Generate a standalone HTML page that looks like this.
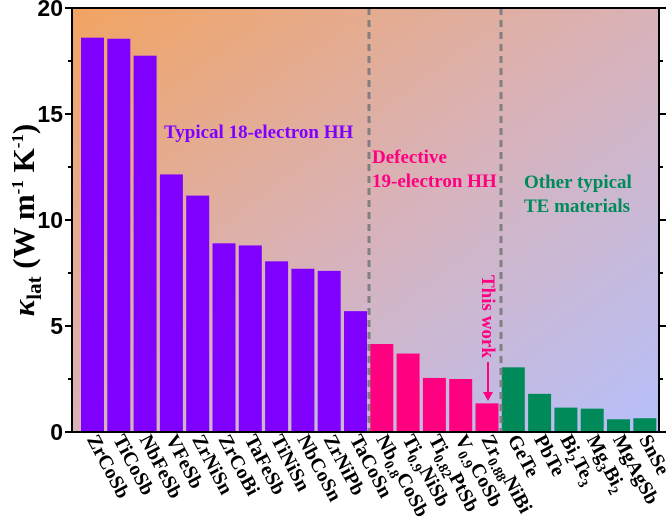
<!DOCTYPE html>
<html><head><meta charset="utf-8"><style>
html,body{margin:0;padding:0;background:#fff;}
svg{display:block;font-family:"Liberation Serif",serif;font-weight:bold;}
</style></head><body>
<svg id="chart" width="666" height="524" viewBox="0 0 666 524" xmlns="http://www.w3.org/2000/svg">
<defs>
<linearGradient id="bg" x1="0" y1="0" x2="1" y2="1">
<stop offset="0" stop-color="#f2a462"/>
<stop offset="0.5" stop-color="#d9b2b8"/>
<stop offset="1" stop-color="#b6c0fb"/>
</linearGradient>
</defs>
<rect x="72" y="8" width="587" height="424" fill="url(#bg)"/>
<g id="bars"></g>
<line x1="369" y1="8" x2="369" y2="432" stroke="#808080" stroke-width="3" stroke-dasharray="7,5"/>
<line x1="501" y1="8" x2="501" y2="432" stroke="#808080" stroke-width="3" stroke-dasharray="7,5"/>
<rect x="72" y="8" width="587" height="424" fill="none" stroke="#000" stroke-width="2"/>
<g id="yticks"></g>
<g id="xlabels"></g>
<text transform="translate(34,220) rotate(-90)" text-anchor="middle" font-size="31" fill="#000" font-family="Liberation Serif, serif"><tspan font-style="italic">κ</tspan><tspan font-size="21" dy="7">lat</tspan><tspan dy="-7"> (W m</tspan><tspan font-size="17" dy="-11">-1</tspan><tspan dy="11"> K</tspan><tspan font-size="17" dy="-11">-1</tspan><tspan dy="11">)</tspan></text>
<text x="164" y="138" font-size="19" fill="#8000ff">Typical 18-electron HH</text>
<text x="372" y="163" font-size="19" fill="#ff0080">Defective</text>
<text x="372" y="187" font-size="19" fill="#ff0080">19-electron HH</text>
<text x="524" y="188" font-size="19" fill="#008a5a">Other typical</text>
<text x="524" y="212" font-size="19" fill="#008a5a">TE materials</text>
<text transform="translate(482,275) rotate(90)" font-size="19" fill="#ff0080">This work</text>
<line x1="488" y1="362" x2="488" y2="394" stroke="#ff0080" stroke-width="2"/>
<polygon points="483,392 493,392 488,401" fill="#ff0080"/>
</svg>
<script>
const categories=["ZrCoSb","TiCoSb","NbFeSb","VFeSb","ZrNiSn","ZrCoBi","TaFeSb","TiNiSn","NbCoSn","ZrNiPb","TaCoSn","Nb0.8CoSb","Ti0.9NiSb","Ti0.82PtSb","V0.9CoSb","Zr0.88NiBi","GeTe","PbTe","Bi2Te3","Mg3Bi2","MgAgSb","SnSe"];
const labelsHtml=["ZrCoSb","TiCoSb","NbFeSb","VFeSb","ZrNiSn","ZrCoBi","TaFeSb","TiNiSn","NbCoSn","ZrNiPb","TaCoSn","Nb|0.8|CoSb","Ti|0.9|NiSb","Ti|0.82|PtSb","V|0.9|CoSb","Zr|0.88|NiBi","GeTe","PbTe","Bi|2|Te|3|","Mg|3|Bi|2|","MgAgSb","SnSe"];
const values=[18.6,18.55,17.75,12.15,11.15,8.9,8.8,8.05,7.7,7.6,5.7,4.15,3.7,2.55,2.5,1.35,3.05,1.8,1.15,1.1,0.6,0.65];
const groups=[0,0,0,0,0,0,0,0,0,0,0,1,1,1,1,1,2,2,2,2,2,2];
const yTicks=[0,5,10,15,20];
const groupColors=["#8000ff","#ff0080","#008a5a"];
const NS="http://www.w3.org/2000/svg";
const pitch=26.3,barW=23;
function xScale(i){return 81+i*pitch;}
function yScale(v){return 432-v*21.2;}
const bars=document.getElementById('bars');
values.forEach((v,i)=>{
 const r=document.createElementNS(NS,'rect');
 
 
 r.setAttribute('x',xScale(i));r.setAttribute('width',barW);
 r.setAttribute('y',yScale(v));r.setAttribute('height',432-yScale(v));
 r.setAttribute('fill',groupColors[groups[i]]);
 bars.appendChild(r);
});
const yt=document.getElementById('yticks');
for(let v=0;v<=20;v+=2.5){
 const major=yTicks.includes(v);
 [[72,-1],[659,1]].forEach(([xx,d])=>{
  const l=document.createElementNS(NS,'line');
  
  
  const len=major?7:4;
  l.setAttribute('x1',xx);l.setAttribute('x2',xx+d*len);
  l.setAttribute('y1',yScale(v));l.setAttribute('y2',yScale(v));
  l.setAttribute('stroke','#000');l.setAttribute('stroke-width','2');
  yt.appendChild(l);
 });
}
yTicks.forEach(v=>{
 const t=document.createElementNS(NS,'text');
 
 
 t.setAttribute('x',63);t.setAttribute('y',yScale(v)+8);
 t.setAttribute('text-anchor','end');t.setAttribute('font-size','23');
 t.setAttribute('font-family','Liberation Sans, sans-serif');
 t.textContent=v;yt.appendChild(t);
});
const xl=document.getElementById('xlabels');
labelsHtml.forEach((s,i)=>{
 const t=document.createElementNS(NS,'text');
 
 
 const cx=xScale(i)+barW/2-6;
 t.setAttribute('transform','translate('+cx+',439) rotate(62)');
 t.setAttribute('font-size','20');
 const parts=s.split('|');
 parts.forEach((p,j)=>{
  if(!p)return;
  const sp=document.createElementNS(NS,'tspan');
  if(j%2===1){sp.setAttribute('font-size','14');sp.setAttribute('dy','5');}
  else if(j>0){sp.setAttribute('dy','-5');}
  sp.textContent=p;t.appendChild(sp);
 });
 xl.appendChild(t);
});
</script>
</body></html>
